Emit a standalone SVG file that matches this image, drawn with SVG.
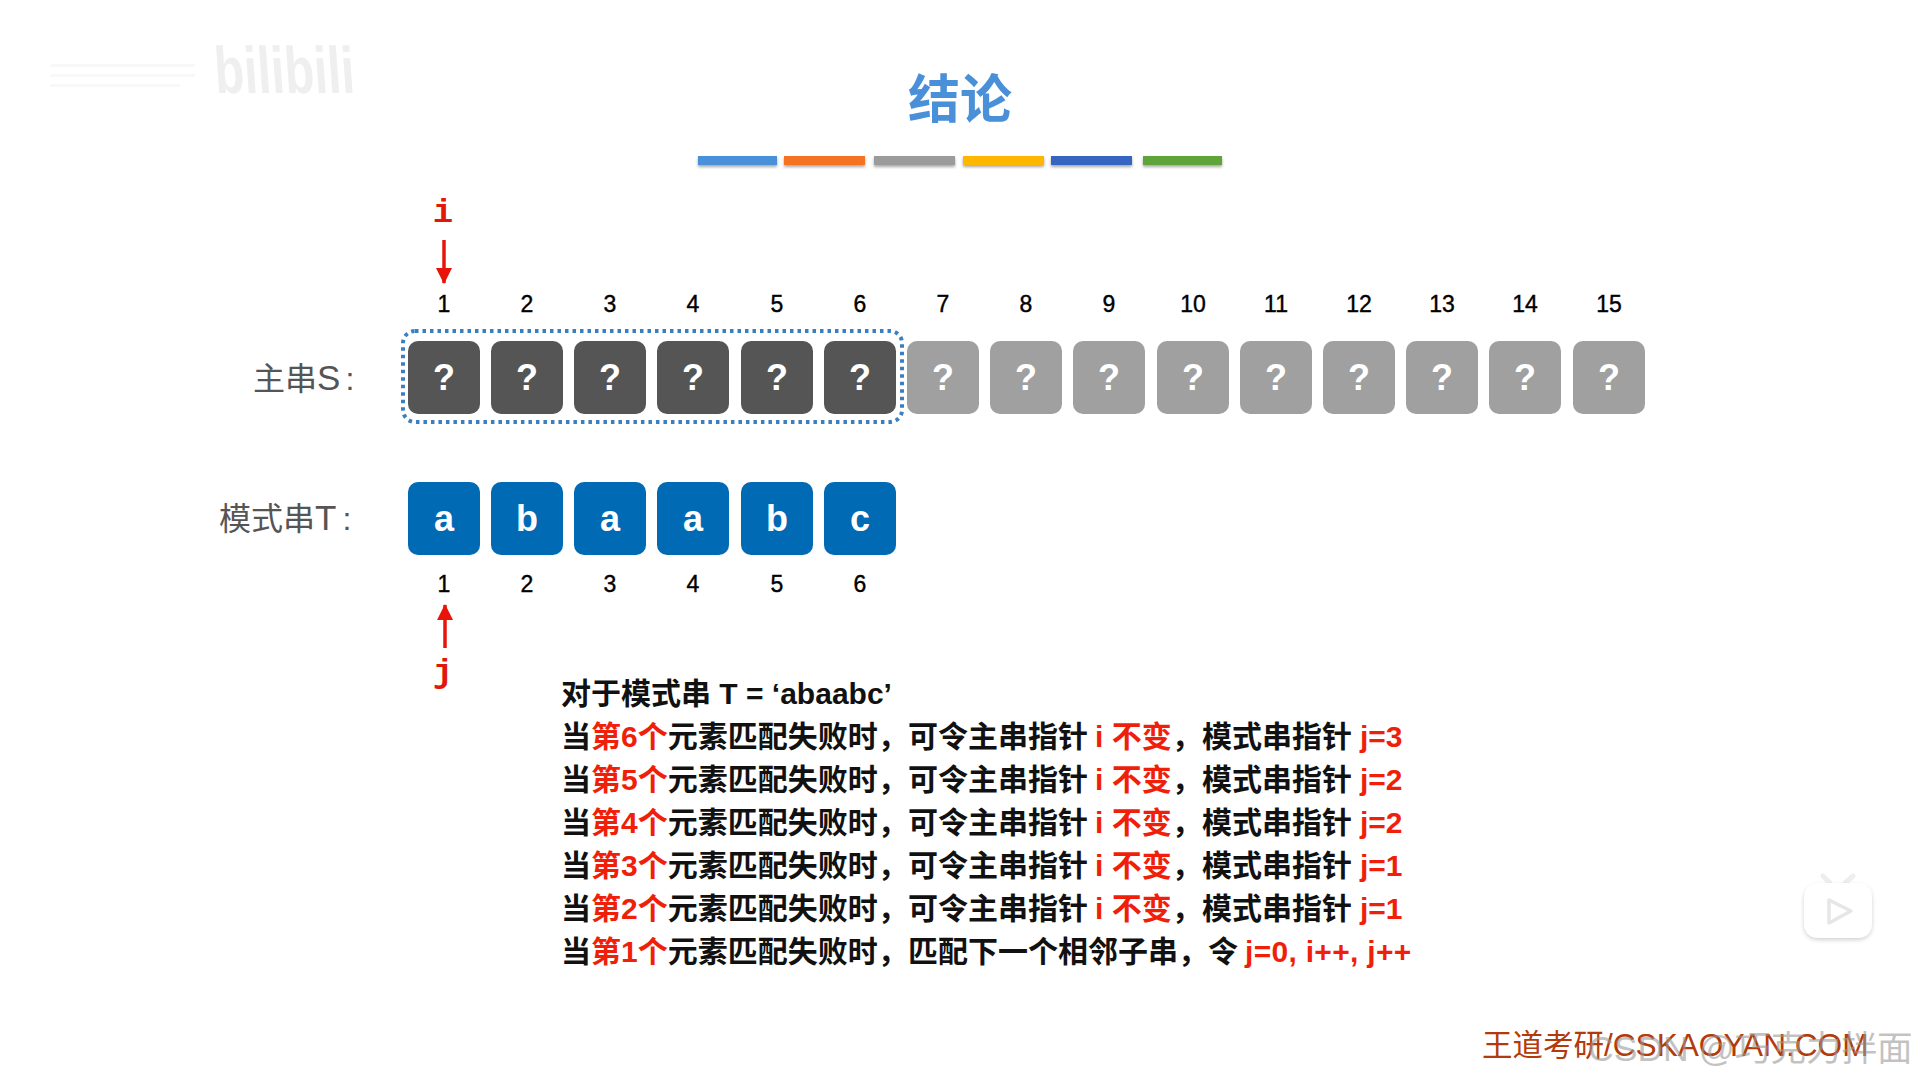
<svg xmlns="http://www.w3.org/2000/svg" width="1919" height="1079" viewBox="0 0 1919 1079">
<style>
text{font-family:"Liberation Sans","Noto Sans CJK SC",sans-serif}
.n{font-size:23px;text-anchor:middle;fill:#000;stroke:#000;stroke-width:.4}
.d{fill:#555}.g{fill:#a0a0a0}.b{fill:#006ab5}
.c{font-size:36px;font-weight:bold;fill:#fff;text-anchor:middle}
.l{font-size:32px;fill:#555}
.ll{font-size:35px}
.t{font-size:30px;font-weight:bold;fill:#111}
.r{fill:#f01f0a}
.p{font-family:"Liberation Mono",monospace;font-size:34px;font-weight:bold;fill:#e01808;text-anchor:middle}
.a{stroke:#e8140a;stroke-width:3.5;fill:none}
</style>
<defs>
<filter id="s" x="-5%" y="-30%" width="110%" height="180%"><feDropShadow dx="0" dy="2" stdDeviation="1.5" flood-opacity="0.35"/></filter>
<filter id="soft" x="-10%" y="-10%" width="120%" height="125%"><feDropShadow dx="0" dy="2" stdDeviation="2" flood-opacity="0.18"/></filter>
<marker id="ah" markerUnits="userSpaceOnUse" markerWidth="18" markerHeight="18" refX="15" refY="8" orient="auto"><path d="M0 0L16 8L0 16Z" fill="#e8140a"/></marker>
</defs>
<rect width="1919" height="1079" fill="#fff"/>
<g id="watermark-top">
<text transform="translate(216 93) skewX(4)" textLength="140" lengthAdjust="spacingAndGlyphs" style="font-size:66px;font-weight:bold" fill="#efefef">bilibili</text>
<g fill="#f8f8f8"><rect x="50" y="64" width="145" height="3"/><rect x="50" y="74" width="145" height="3"/><rect x="50" y="84" width="130" height="3"/></g>
</g>
<g id="title"><text x="960" y="118" style="font-size:52px;font-weight:bold;text-anchor:middle" fill="#4a90d9">结论</text></g>
<g id="title-bars" filter="url(#s)">
<rect x="698" y="156" width="79" height="9" fill="#4a90d9"/>
<rect x="784" y="156" width="81" height="9" fill="#f47322"/>
<rect x="874" y="156" width="81" height="9" fill="#9b9b9b"/>
<rect x="963" y="156" width="81" height="9" fill="#ffb600"/>
<rect x="1051" y="156" width="81" height="9" fill="#3465c1"/>
<rect x="1143" y="156" width="79" height="9" fill="#5ea33a"/>
</g>
<g id="label-s"><text class="l" x="253" y="390">主串<tspan class="ll">S</tspan><tspan dx="5">:</tspan></text></g>
<g id="label-t"><text class="l" x="219" y="530">模式串<tspan class="ll">T</tspan><tspan dx="6">:</tspan></text></g>
<g id="window"><rect x="403" y="331" width="499" height="91" rx="12" fill="none" stroke="#3b7fc0" stroke-width="4" stroke-dasharray="3.5 4"/></g>
<g id="s-cells">
<g id="s1"><rect class="d" x="408" y="341" width="72" height="73" rx="10"/><text class="c" x="444" y="390">?</text><text class="n" x="444" y="312">1</text></g>
<g id="s2"><rect class="d" x="491" y="341" width="72" height="73" rx="10"/><text class="c" x="527" y="390">?</text><text class="n" x="527" y="312">2</text></g>
<g id="s3"><rect class="d" x="574" y="341" width="72" height="73" rx="10"/><text class="c" x="610" y="390">?</text><text class="n" x="610" y="312">3</text></g>
<g id="s4"><rect class="d" x="657" y="341" width="72" height="73" rx="10"/><text class="c" x="693" y="390">?</text><text class="n" x="693" y="312">4</text></g>
<g id="s5"><rect class="d" x="741" y="341" width="72" height="73" rx="10"/><text class="c" x="777" y="390">?</text><text class="n" x="777" y="312">5</text></g>
<g id="s6"><rect class="d" x="824" y="341" width="72" height="73" rx="10"/><text class="c" x="860" y="390">?</text><text class="n" x="860" y="312">6</text></g>
<g id="s7"><rect class="g" x="907" y="341" width="72" height="73" rx="10"/><text class="c" x="943" y="390">?</text><text class="n" x="943" y="312">7</text></g>
<g id="s8"><rect class="g" x="990" y="341" width="72" height="73" rx="10"/><text class="c" x="1026" y="390">?</text><text class="n" x="1026" y="312">8</text></g>
<g id="s9"><rect class="g" x="1073" y="341" width="72" height="73" rx="10"/><text class="c" x="1109" y="390">?</text><text class="n" x="1109" y="312">9</text></g>
<g id="s10"><rect class="g" x="1157" y="341" width="72" height="73" rx="10"/><text class="c" x="1193" y="390">?</text><text class="n" x="1193" y="312">10</text></g>
<g id="s11"><rect class="g" x="1240" y="341" width="72" height="73" rx="10"/><text class="c" x="1276" y="390">?</text><text class="n" x="1276" y="312">11</text></g>
<g id="s12"><rect class="g" x="1323" y="341" width="72" height="73" rx="10"/><text class="c" x="1359" y="390">?</text><text class="n" x="1359" y="312">12</text></g>
<g id="s13"><rect class="g" x="1406" y="341" width="72" height="73" rx="10"/><text class="c" x="1442" y="390">?</text><text class="n" x="1442" y="312">13</text></g>
<g id="s14"><rect class="g" x="1489" y="341" width="72" height="73" rx="10"/><text class="c" x="1525" y="390">?</text><text class="n" x="1525" y="312">14</text></g>
<g id="s15"><rect class="g" x="1573" y="341" width="72" height="73" rx="10"/><text class="c" x="1609" y="390">?</text><text class="n" x="1609" y="312">15</text></g>
</g>
<g id="t-cells">
<g id="t1"><rect class="b" x="408" y="482" width="72" height="73" rx="10"/><text class="c" x="444" y="531">a</text><text class="n" x="444" y="592">1</text></g>
<g id="t2"><rect class="b" x="491" y="482" width="72" height="73" rx="10"/><text class="c" x="527" y="531">b</text><text class="n" x="527" y="592">2</text></g>
<g id="t3"><rect class="b" x="574" y="482" width="72" height="73" rx="10"/><text class="c" x="610" y="531">a</text><text class="n" x="610" y="592">3</text></g>
<g id="t4"><rect class="b" x="657" y="482" width="72" height="73" rx="10"/><text class="c" x="693" y="531">a</text><text class="n" x="693" y="592">4</text></g>
<g id="t5"><rect class="b" x="741" y="482" width="72" height="73" rx="10"/><text class="c" x="777" y="531">b</text><text class="n" x="777" y="592">5</text></g>
<g id="t6"><rect class="b" x="824" y="482" width="72" height="73" rx="10"/><text class="c" x="860" y="531">c</text><text class="n" x="860" y="592">6</text></g>
</g>
<g id="connectors">
<path class="a" d="M444 240V283" marker-end="url(#ah)"/>
<path class="a" d="M445 648V605" marker-end="url(#ah)"/>
</g>
<g id="pointer-i"><text class="p" x="443" y="222">i</text></g>
<g id="pointer-j"><text class="p" x="443" y="682">j</text></g>
<g id="explanation">
<text class="t" x="561" y="704">对于模式串 T = ‘abaabc’</text>
<text class="t" y="747"><tspan x="561">当</tspan><tspan class="r">第6个</tspan>元素匹配失败时，<tspan x="908">可令主串指针</tspan><tspan x="1095" class="r">i 不变</tspan>，<tspan x="1202">模式串指针</tspan><tspan x="1360" class="r">j=3</tspan></text>
<text class="t" y="790"><tspan x="561">当</tspan><tspan class="r">第5个</tspan>元素匹配失败时，<tspan x="908">可令主串指针</tspan><tspan x="1095" class="r">i 不变</tspan>，<tspan x="1202">模式串指针</tspan><tspan x="1360" class="r">j=2</tspan></text>
<text class="t" y="833"><tspan x="561">当</tspan><tspan class="r">第4个</tspan>元素匹配失败时，<tspan x="908">可令主串指针</tspan><tspan x="1095" class="r">i 不变</tspan>，<tspan x="1202">模式串指针</tspan><tspan x="1360" class="r">j=2</tspan></text>
<text class="t" y="876"><tspan x="561">当</tspan><tspan class="r">第3个</tspan>元素匹配失败时，<tspan x="908">可令主串指针</tspan><tspan x="1095" class="r">i 不变</tspan>，<tspan x="1202">模式串指针</tspan><tspan x="1360" class="r">j=1</tspan></text>
<text class="t" y="919"><tspan x="561">当</tspan><tspan class="r">第2个</tspan>元素匹配失败时，<tspan x="908">可令主串指针</tspan><tspan x="1095" class="r">i 不变</tspan>，<tspan x="1202">模式串指针</tspan><tspan x="1360" class="r">j=1</tspan></text>
<text class="t" y="962"><tspan x="561">当</tspan><tspan class="r">第1个</tspan>元素匹配失败时，<tspan x="908">匹配下一个相邻子串，令</tspan><tspan x="1245" class="r" style="letter-spacing:.3px">j=0, i++, j++</tspan></text>
</g>
<g id="tv-icon">
<path d="M1823 876L1830 883M1853 876L1845 883" stroke="#eee" stroke-width="5" stroke-linecap="round"/>
<path d="M1820 883H1856Q1872 883 1872 899V922Q1872 938 1856 938H1820Q1804 938 1804 922V899Q1804 883 1820 883Z" fill="#fff" filter="url(#soft)"/>
<path d="M1829 900L1851 911L1829 923Z" fill="#fff" stroke="#e6e6e6" stroke-width="3.5" stroke-linejoin="round"/>
</g>
<g id="footer">
<text x="1482" y="1056" style="font-size:30.5px" fill="#b33a0a">王道考研<tspan style="font-size:31.6px">/CSKAOYAN.COM</tspan></text>
<text x="1588" y="1061" style="font-size:35.6px" fill="#999" fill-opacity="0.6">CSDN @巧克力拌面</text>
</g>
</svg>
